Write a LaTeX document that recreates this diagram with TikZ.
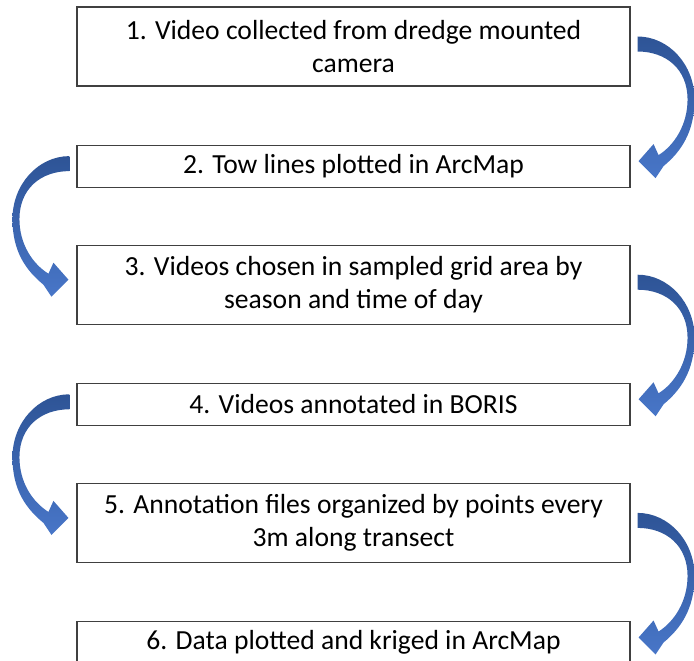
\documentclass[tikz,border=0pt]{standalone}
\usepackage{fontspec}
\setmainfont{Carlito}
\usetikzlibrary{positioning,calc}

\definecolor{bendtop}{RGB}{46,84,150}
\definecolor{bendlow}{RGB}{72,118,200}

% curved arrow from box #1 to box #2 on side #3 (east/west), #4 = 1 right, -1 left
\newcommand{\bendarrow}[4]{%
  \coordinate (s) at ($(#1.#3)+({#4*7},-10)$);
  \coordinate (e) at ($(#2.#3)+({#4*8},-5)$);
  \shade[top color=bendtop, bottom color=bendlow]
    (s) .. controls ($(s)+({#4*31},0)$) and ($(s)+({#4*57},28)$) .. ($(s)+({#4*57},63)$)
    .. controls ($(s)+({#4*57},96)$) and ($(e)+({#4*42},-9)$) .. ($(e)+({#4*25},5)$)
    -- ($(e)+({#4*17},17)$) -- (e) -- ($(e)+({#4*15},-17)$) -- ($(e)+({#4*20},-6)$)
    .. controls ($(e)+({#4*36},-16)$) and ($(s)+({#4*50},88)$) .. ($(s)+({#4*50},63)$)
    .. controls ($(s)+({#4*50},33)$) and ($(s)+({#4*29},15)$) .. ($(s)+(0,15)$) -- cycle;
}

\begin{document}
\begin{tikzpicture}[
    x=1pt, y=-1pt,
    stepbox/.style={draw=black!75, line width=1.1pt, minimum width=553pt,
      minimum height=42pt, inner sep=0pt, align=center,
      font=\fontsize{27.6}{33.5}\selectfont},
    twoline/.style={minimum height=79pt}
  ]
  \useasboundingbox (0,0) rectangle (694,661);
  % the six steps
  \node[stepbox, twoline] (b1) at (353.5,46.5) {1. Video collected from dredge mounted\\camera};
  \node[stepbox, below=58pt of b1] (b2) {2. Tow lines plotted in ArcMap};
  \node[stepbox, twoline, below=57pt of b2] (b3) {3. Videos chosen in sampled grid area by\\season and time of day};
  \node[stepbox, below=58pt of b3] (b4) {4. Videos annotated in BORIS};
  \node[stepbox, twoline, below=57pt of b4] (b5) {5. Annotation files organized by points every\\3m along transect};
  \node[stepbox, below=58pt of b5] (b6) {6. Data plotted and kriged in ArcMap};
  % curved arrows, alternating sides
  \bendarrow{b1}{b2}{east}{1}
  \bendarrow{b2}{b3}{west}{-1}
  \bendarrow{b3}{b4}{east}{1}
  \bendarrow{b4}{b5}{west}{-1}
  \bendarrow{b5}{b6}{east}{1}
\end{tikzpicture}
\end{document}
